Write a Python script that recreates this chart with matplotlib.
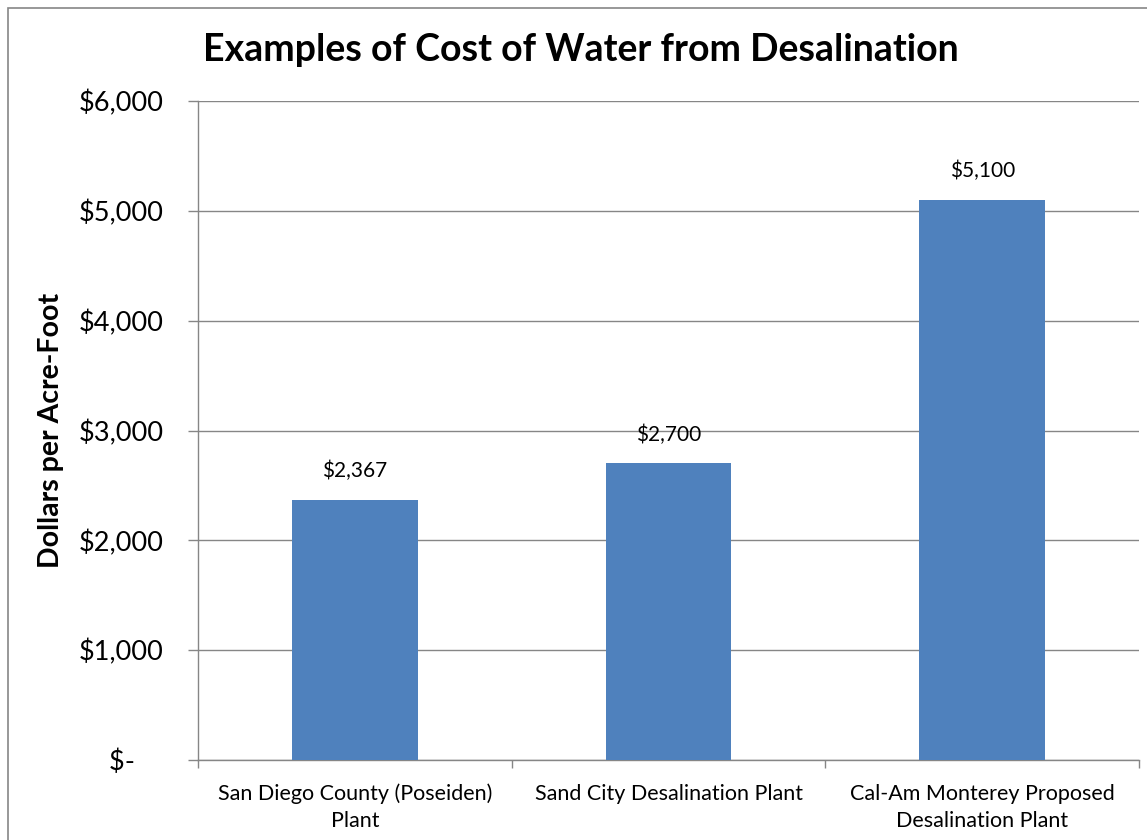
import numpy as np
import matplotlib.pyplot as plt
from matplotlib.patches import Rectangle

plt.rcParams['font.family'] = ['Lato', 'DejaVu Sans']

# data
plants = ["San Diego County (Poseiden)\nPlant",
          "Sand City Desalination Plant",
          "Cal-Am Monterey Proposed\nDesalination Plant"]
cost = [2367, 2700, 5100]
yticks = [0, 1000, 2000, 3000, 4000, 5000, 6000]
ytick_labels = ["$-    ", "$1,000", "$2,000", "$3,000", "$4,000", "$5,000", "$6,000"]

W, H = 1147, 840
fig = plt.figure(figsize=(W / 100, H / 100), dpi=100)
ax = fig.add_axes([198 / W, 80 / H, 941 / W, 659 / H])

grid_c = "#868686"
bar_c = "#4F81BD"

x = np.arange(len(plants))
ax.bar(x, cost, width=0.4, color=bar_c, zorder=3)
for xi, v in zip(x, cost):
    ax.text(xi, v + 170, f"${v:,}", ha="center", va="bottom", fontsize=15)

ax.set_xlim(-0.5, len(plants) - 0.5)
ax.set_ylim(0, 6000)
ax.set_yticks(yticks)
ax.set_yticklabels(ytick_labels, fontsize=19.5)
ax.set_xticks(x)
ax.set_xticklabels(plants, fontsize=15.5, linespacing=1.45)
ax.set_xticks(np.arange(len(plants) + 1) - 0.5, minor=True)
ax.tick_params(axis="x", which="major", length=0, pad=17)
ax.tick_params(axis="x", which="minor", length=6, color=grid_c, width=1)
ax.tick_params(axis="y", length=7, color=grid_c, width=1, pad=18)

ax.grid(axis="y", color=grid_c, linewidth=1, zorder=0)
for s in ["top", "right"]:
    ax.spines[s].set_visible(False)
for s in ["left", "bottom"]:
    ax.spines[s].set_color(grid_c)
    ax.spines[s].set_linewidth(1)

ax.set_ylabel("Dollars per Acre-Foot", fontsize=20.5, fontweight="bold", labelpad=10)
fig.text(581 / W, 1 - 50 / H, "Examples of Cost of Water from Desalination",
         ha="center", va="center", fontsize=27, fontweight="bold")

# outer chart border (cut off at right and bottom)
fig.patches.append(Rectangle((8 / W, -0.1), 1.2, (H - 8) / H + 0.1,
                             transform=fig.transFigure, fill=False,
                             edgecolor=grid_c, linewidth=1.2))

fig.savefig("out.png", dpi=100)
